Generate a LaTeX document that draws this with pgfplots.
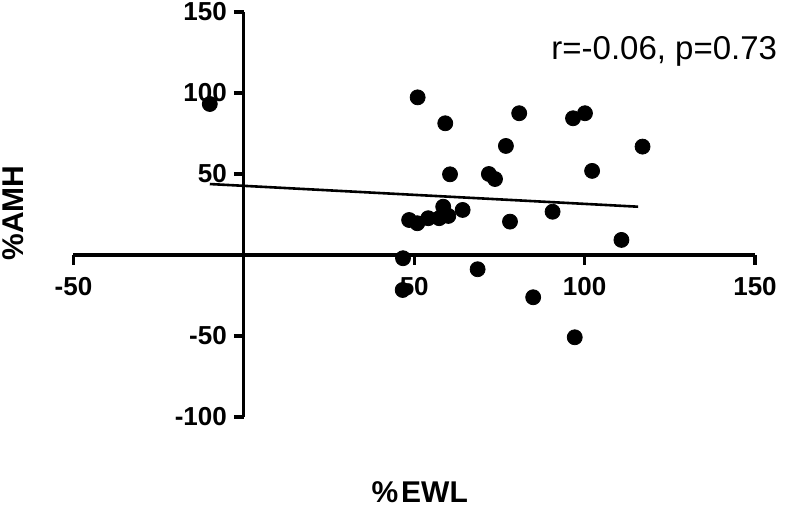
\documentclass[border=0pt]{standalone}
\usepackage{fontspec}
\setmainfont{Liberation Sans}
\usepackage{pgfplots}
\pgfplotsset{compat=1.18}

\begin{document}
\begin{tikzpicture}
\useasboundingbox (-36.75pt,-44.5pt) rectangle (357.25pt,208.5pt);
\begin{axis}[
  at={(0,0)}, anchor=south west,
  scale only axis, width=340.75pt, height=202.5pt,
  xmin=-50, xmax=150, ymin=-100, ymax=150,
  axis lines=middle,
  axis line style={-, line width=1.6pt},
  tick style={black, line width=1.6pt},
  major tick length=5pt, tick align=outside,
  xtick={-50,50,100,150}, ytick={-100,-50,50,100,150},
  ticklabel style={font=\fontsize{13}{15}\selectfont\bfseries},
  xticklabel style={yshift=-2.5pt},
  /pgf/number format/assume math mode=true,
  xlabel={\%\hspace{1.5pt}EWL}, ylabel={\%AMH},
  label style={font=\fontsize{15}{17}\selectfont\bfseries},
  xlabel style={at={(rel axis cs:0.508,-0.185)}, anchor=center},
  ylabel style={at={(rel axis cs:-0.0888,0.504)}, anchor=center, rotate=90},
  clip=false,
]
  \addplot[only marks, mark=*, mark size=3.75pt, black] coordinates {
    (51.0,97.3) (59.1,81.3) (80.8,87.5) (96.6,84.4) (100.1,87.5)
    (76.9,67.3) (117.0,66.9) (60.5,49.8) (71.9,50.0) (73.7,46.9)
    (102.2,51.9) (58.5,29.8) (48.5,21.6) (50.9,19.6) (54.1,22.7)
    (57.3,22.7) (60.0,24.1) (64.2,27.8) (78.1,20.6) (90.6,26.7)
    (110.8,9.3) (46.7,-2.0) (46.6,-21.6) (68.6,-8.8) (84.9,-26.1)
    (97.1,-50.8) (-10.0,93.2)
  };
  \addplot[black, line width=1.3pt] coordinates {(-10,43.8) (115.7,29.8)};
  \node[anchor=base east, font=\fontsize{16.5}{19}\selectfont, inner sep=0pt]
    at (axis cs:156.6,120.4) {r=-0.06, p=0.73};
\end{axis}
\end{tikzpicture}
\end{document}
